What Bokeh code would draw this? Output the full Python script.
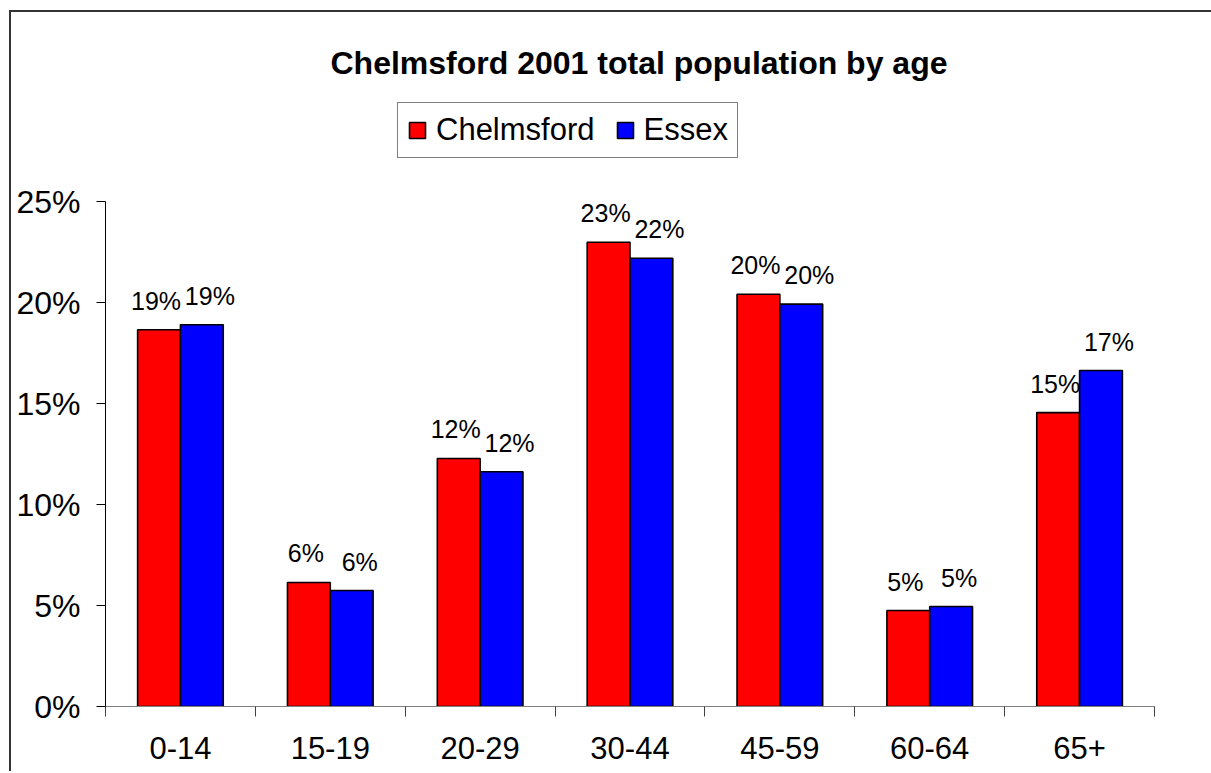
from bokeh.plotting import figure
from bokeh.models import (ColumnDataSource, FixedTicker, NumeralTickFormatter,
                          Legend, LegendItem)
from bokeh.transform import dodge
from bokeh.core.properties import value
from bokeh.embed import file_html
from bokeh.resources import INLINE

# ---- data ----
categories = ["0-14", "15-19", "20-29", "30-44", "45-59", "60-64", "65+"]
chelmsford = [0.1865, 0.0614, 0.1228, 0.2298, 0.2041, 0.0475, 0.1455]
essex = [0.1890, 0.0574, 0.1162, 0.2219, 0.1992, 0.0495, 0.1663]
series_names = ["Chelmsford", "Essex"]
series_colors = ["#FF0000", "#0000FF"]
y_ticks = [0, 0.05, 0.10, 0.15, 0.20, 0.25]

FONT = "Liberation Sans"

centers = [i + 0.5 for i in range(len(categories))]
src = ColumnDataSource(dict(
    x=centers,
    chelmsford=chelmsford,
    essex=essex,
    lab_c=["{:.0f}%".format(v * 100) for v in chelmsford],
    lab_e=["{:.0f}%".format(v * 100) for v in essex],
))

p = figure(width=1210, height=761,
           x_range=(0, len(categories)), y_range=(0, 0.30),
           output_backend="svg", toolbar_location=None,
           min_border_left=94, min_border_right=67,
           min_border_top=88, min_border_bottom=67,
           title="Chelmsford 2001 total population by age")
p.margin = (12, 0, 0, 11)
p.styles = {"box-shadow": "-2px -2px 0px 0px #333333"}
p.outline_line_color = None
p.xgrid.visible = False
p.ygrid.visible = False
p.background_fill_color = "white"
p.border_fill_color = "white"

p.title.align = "left"
p.title.offset = 225
p.title.standoff = 39
p.title.text_font = FONT
p.title.text_font_size = "32px"
p.title.text_font_style = "bold"
p.title.text_color = "black"

bw = 1 / 3.5
r1 = p.vbar(x=dodge("x", -bw / 2), top="chelmsford", width=bw, source=src,
            fill_color=series_colors[0], line_color="black", line_width=1.6)
r2 = p.vbar(x=dodge("x", bw / 2), top="essex", width=bw, source=src,
            fill_color=series_colors[1], line_color="black", line_width=1.6)

for col, lab, off, nudge in (("chelmsford", "lab_c", -bw / 2, -3),
                             ("essex", "lab_e", bw / 2, 8)):
    p.text(x=dodge("x", off), y=col, text=lab, source=src,
           text_align="center", text_baseline="alphabetic",
           x_offset=nudge, y_offset=-29,
           text_font=value(FONT), text_font_size="25px", text_color="black")

# y axis (line limited to 0..25%)
ya = p.yaxis[0]
ya.bounds = (0, 0.25)
ya.ticker = FixedTicker(ticks=y_ticks)
ya.formatter = NumeralTickFormatter(format="0%")
ya.major_label_text_font = FONT
ya.major_label_text_font_size = "32px"
ya.major_label_text_color = "black"
ya.axis_line_color = "black"
ya.major_tick_line_color = "black"
ya.major_tick_in = 0
ya.major_tick_out = 9
ya.minor_tick_line_color = None
ya.major_label_standoff = 16

# x axis: labels at centers, ticks at boundaries
xa = p.xaxis[0]
xa.ticker = FixedTicker(ticks=centers, minor_ticks=list(range(len(categories) + 1)))
xa.major_label_overrides = {c: lab for c, lab in zip(centers, categories)}
xa.major_label_text_font = FONT
xa.major_label_text_font_size = "31px"
xa.major_label_text_color = "black"
xa.axis_line_color = "#808080"
xa.major_tick_line_color = None
xa.minor_tick_line_color = "#404040"
xa.minor_tick_in = 0
xa.minor_tick_out = 10
xa.major_label_standoff = 20

legend = Legend(items=[LegendItem(label=series_names[0], renderers=[r1]),
                       LegendItem(label=series_names[1], renderers=[r2])],
                orientation="horizontal", location=(292, 548))
legend.label_text_font = FONT
legend.label_text_font_size = "31px"
legend.label_text_color = "black"
legend.glyph_width = 20
legend.glyph_height = 20
legend.label_standoff = 9
legend.spacing = 20
legend.padding = 9
legend.margin = 0
legend.border_line_color = "black"
legend.border_line_width = 1
legend.background_fill_color = "white"
legend.background_fill_alpha = 1
p.add_layout(legend)

open("out.html", "w").write(file_html(p, INLINE))
